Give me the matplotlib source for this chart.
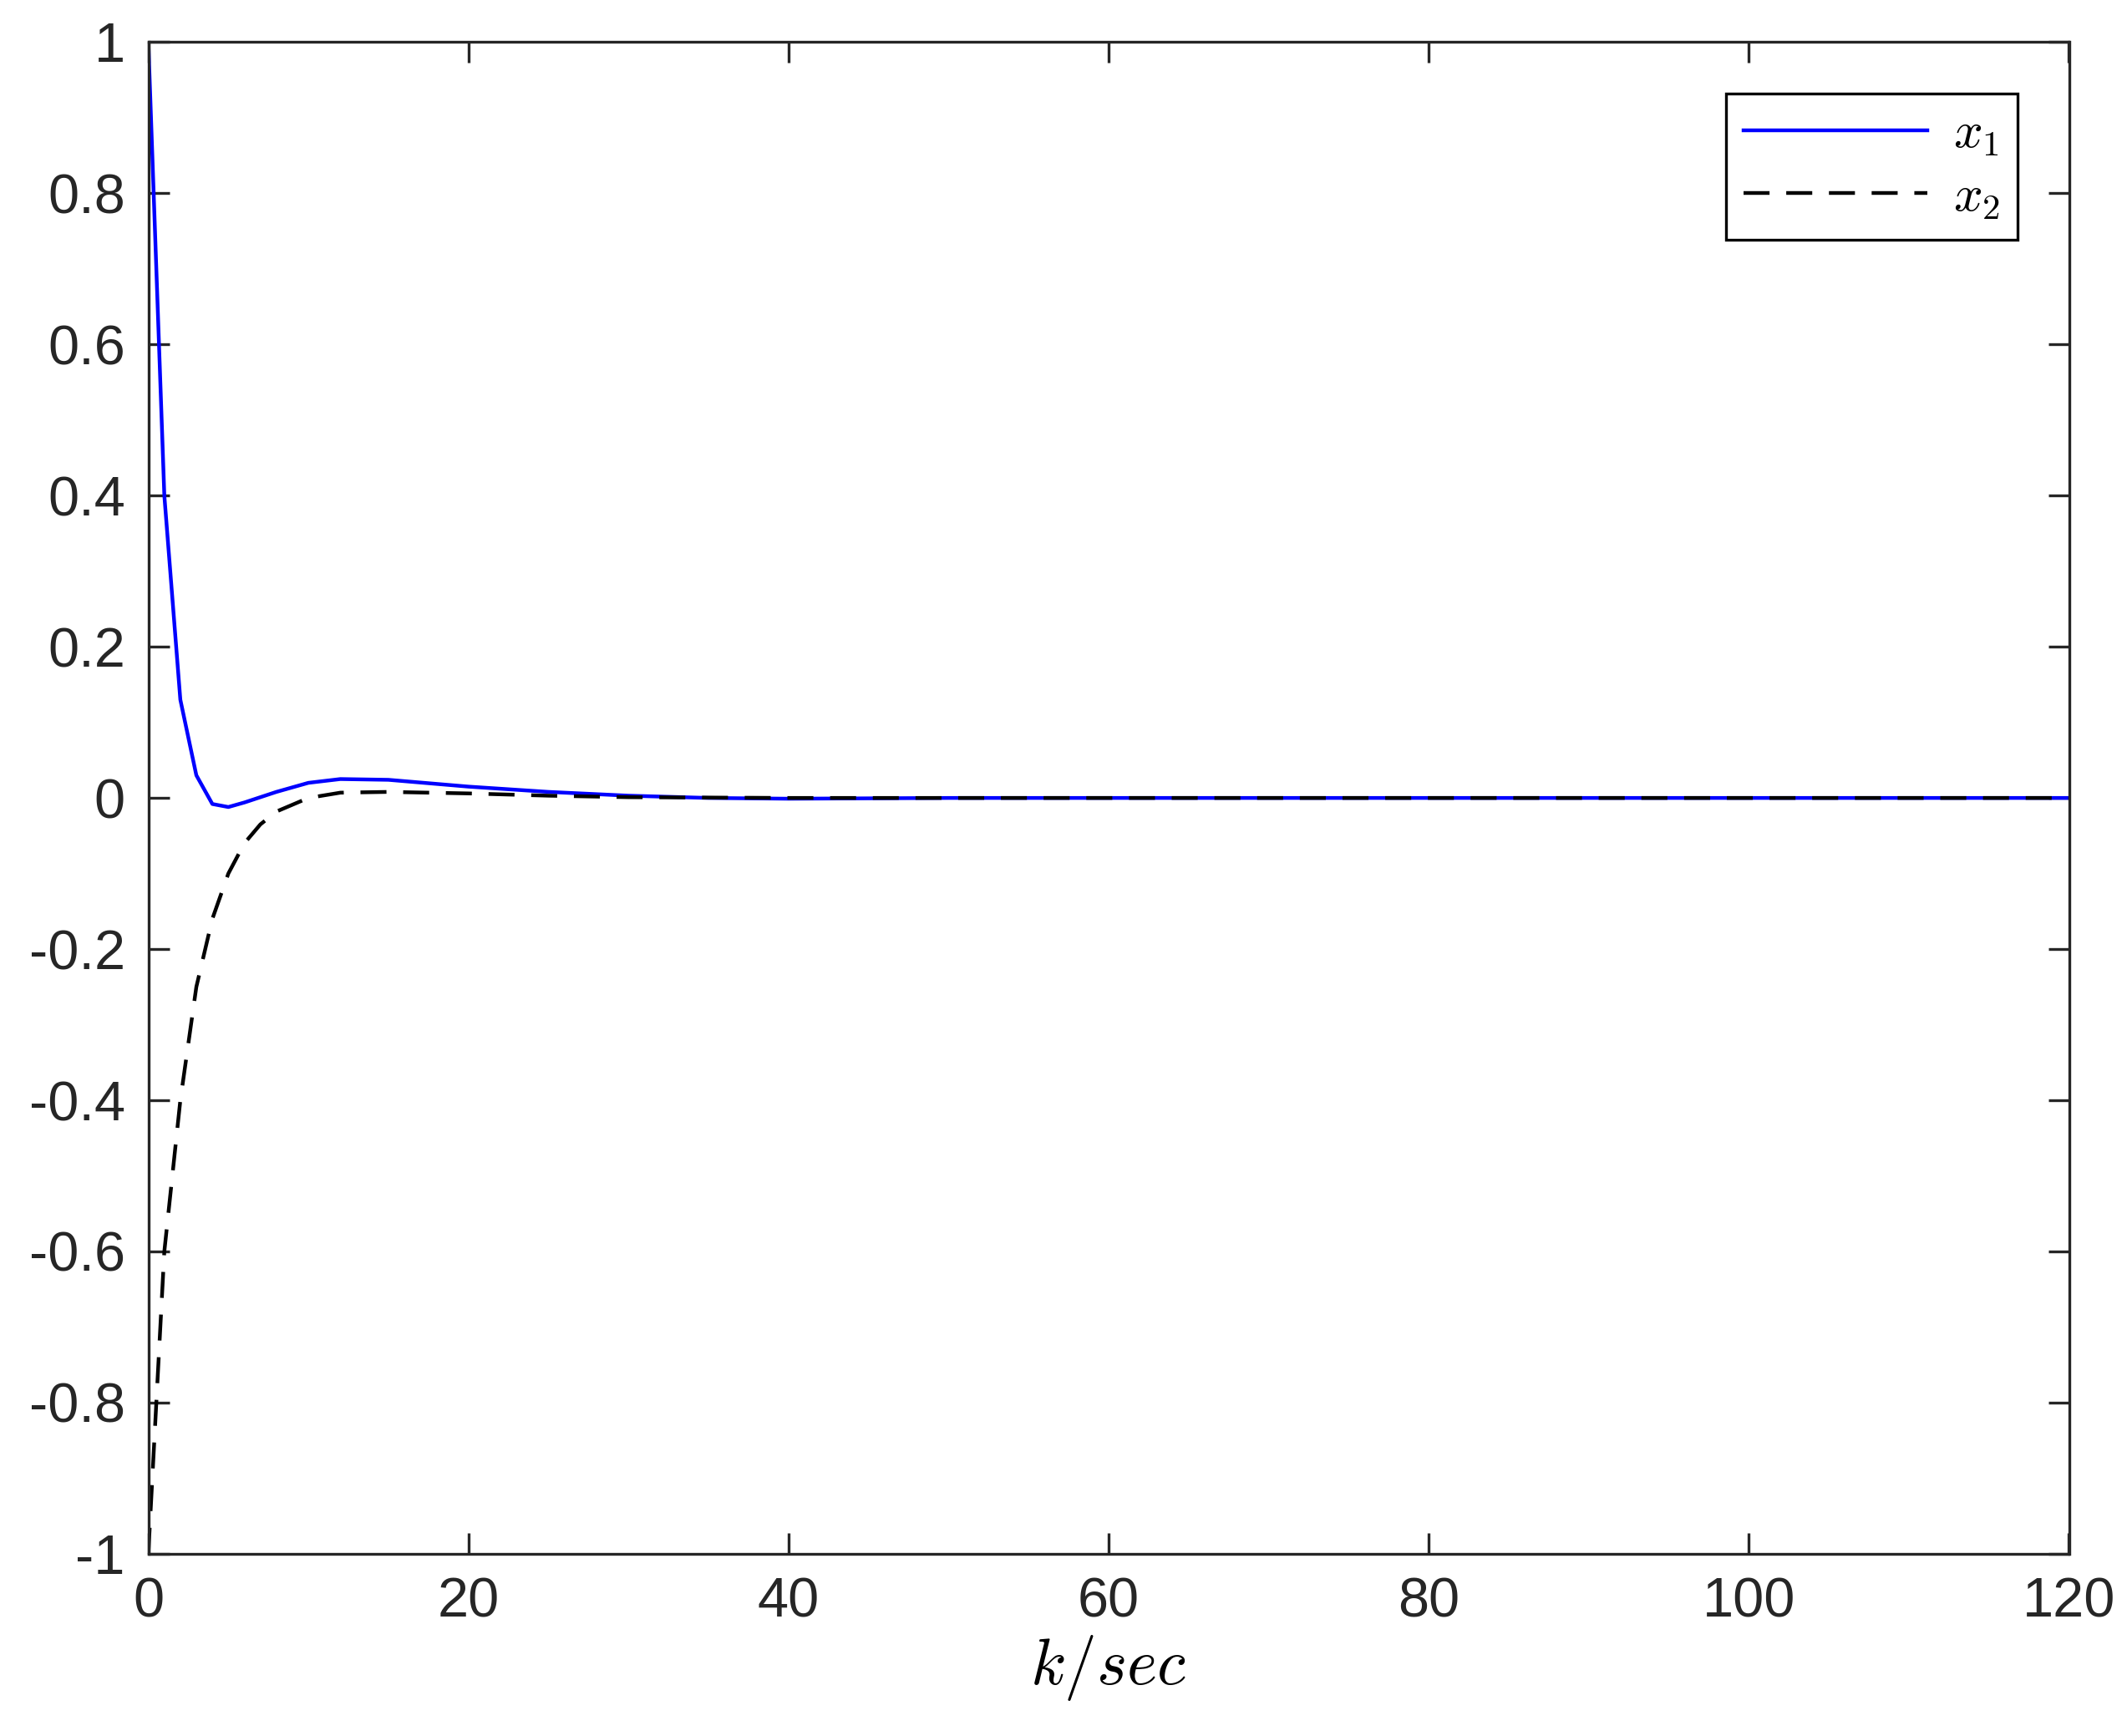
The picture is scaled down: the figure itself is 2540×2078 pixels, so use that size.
import matplotlib.pyplot as plt

# 状态轨迹数据
k1 = [0, 1, 2, 3, 4, 5, 6, 8, 10, 12, 15, 20, 25, 30, 35, 40, 50, 120]
x1 = [1.0, 0.40, 0.13, 0.03, -0.008, -0.012, -0.006, 0.008, 0.020, 0.025, 0.024, 0.015, 0.008, 0.003, 0.0, -0.001, 0.0, 0.0]

k2 = [0, 1, 2, 3, 4, 5, 6, 7, 8, 10, 12, 15, 20, 25, 30, 40, 120]
x2 = [-1.0, -0.60, -0.40, -0.25, -0.16, -0.10, -0.06, -0.035, -0.018, 0.0, 0.007, 0.008, 0.006, 0.003, 0.001, 0.0, 0.0]

xticks = [0, 20, 40, 60, 80, 100, 120]
yticks = [-1, -0.8, -0.6, -0.4, -0.2, 0, 0.2, 0.4, 0.6, 0.8, 1]

plt.rcParams['font.family'] = ['Liberation Sans', 'DejaVu Sans']
plt.rcParams['mathtext.fontset'] = 'cm'

fig = plt.figure(figsize=(12.7, 10.39), dpi=200)
ax = fig.add_axes([0.0699, 0.105, 0.9051, 0.8707])

ax.plot(k1, x1, color='#0000ff', lw=1.6, label='$x_1$')
ax.plot(k2, x2, color='black', lw=1.6, ls=(0, (7, 4.5)), label='$x_2$')

ax.set_xlim(0, 120)
ax.set_ylim(-1, 1)
ax.set_xticks(xticks)
ax.set_yticks(yticks)
ax.set_yticklabels(['-1', '-0.8', '-0.6', '-0.4', '-0.2', '0', '0.2', '0.4', '0.6', '0.8', '1'])
ax.tick_params(direction='in', length=9, width=1.2, labelsize=24, pad=10,
               top=True, right=True, colors='#262626')
for s in ax.spines.values():
    s.set_linewidth(1.2)
    s.set_color('#262626')
ax.set_xlabel('$k/sec$', fontsize=28, labelpad=2)

leg = ax.legend(loc='upper right', fontsize=22, fancybox=False, framealpha=1,
                edgecolor='black', handlelength=3.6, borderaxespad=1.0,
                borderpad=0.35, labelspacing=0.3, handletextpad=0.5)
leg.get_frame().set_linewidth(1.2)

fig.savefig('out.png', dpi=200)
